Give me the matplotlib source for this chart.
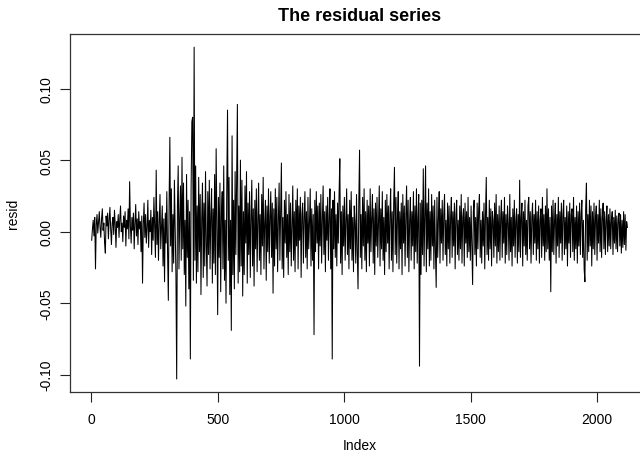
import numpy as np
import matplotlib.pyplot as plt

step = 3
resid_milli = [
    -6, 2, 8, -3, 10, -26, 5, 12, -1, 7, 14, 3, -4, 9, 16, 1, 6, -8, -15, 11,
    4, 13, -5, 8, 17, 2, -9, 6, 10, -2, 15, 5, -11, 7, 3, 12, -4, 9, 18, 0,
    6, -7, 11, 3, 14, -10, 8, 2, 16, -5, 35, 4, -8, 10, 1, 13, -12, 6, 19, -3,
    9, -9, 14, 2, 7, -14, 11, -36, 5, 20, -4, 12, -8, 3, 22, -11, 8, 0, 15, -16,
    10, -6, 24, 4, -18, 43, -9, 14, -20, 6, 26, -12, 3, 18, -24, 9, -35, 13, -8, 28,
    -15, -48, 20, 66, -10, 30, -28, 12, -22, 36, 4, -30, -103, 18, 46, -26, 10, 32, -20, 52,
    -12, 34, -30, 8, -52, 40, -18, 22, -40, 14, -89, 30, 77, 80, -34, 129, -20, 46, -36, 18,
    -28, 38, -14, 26, -44, 10, 34, -32, 20, -24, 42, -8, -38, 28, -16, 36, -26, 12, 30, -36,
    16, -22, 40, -30, 58, 6, -58, 24, -18, 34, -42, 12, 28, -26, 46, -34, 8, -50, 30, 85,
    -20, 38, -44, 8, -69, 67, -30, 22, -40, 42, -16, 34, 89, -36, 18, -28, 50, -24, 36, -45,
    14, -30, 32, -8, 42, -36, 20, -16, 28, -32, 10, 36, -24, 16, -38, 22, -12, 30, -28, 8,
    34, -20, 12, -30, 26, -10, 38, -26, 6, 22, -34, 18, -14, 30, -22, 10, 28, -18, 20, -43,
    16, -24, 30, -12, 24, -28, 8, 34, -20, 14, 48, -26, 10, -32, 22, -8, 28, -18, 12, -30,
    26, -14, 20, -24, 6, 32, -20, 14, -28, 22, -10, 30, -26, 18, -6, 24, -32, 12, 20, -22,
    10, 28, -18, 14, -26, 24, -12, 6, 30, -24, 16, -20, 12, -72, 22, -14, 28, -8, 18, -26,
    20, -10, 26, -22, 8, 32, -16, 14, -28, 18, -6, 24, -20, 10, 30, -26, 16, -89, 22, -12,
    28, -18, 12, -24, 20, -8, 26, 51, -22, 14, -30, 18, -10, 24, -20, 8, 30, -16, 12, -26,
    22, -12, 28, -20, 10, -28, 18, 6, -22, 26, -14, -40, 20, 57, -18, 12, -26, 24, -10, 30,
    -20, 14, -28, 22, -8, 18, -24, 30, -14, 10, 26, -22, 16, -30, 20, -10, 24, -18, 8, 32,
    -24, 16, -12, 28, -20, 10, -30, 22, -14, 26, -8, 18, -26, 12, 30, -20, 14, -28, 20, 45,
    -16, 24, -22, 10, 28, -26, 14, -12, 20, -30, 26, -8, 18, -24, 12, 32, -18, 22, -28, 8,
    24, -20, 14, -10, 28, -26, 18, -14, 30, -22, 10, 26, -94, 20, -30, 22, -16, 44, -24, 12,
    46, -28, 20, -12, 30, -24, 14, -20, 26, -10, 18, -26, 22, -14, -39, 24, -18, 10, 28, -22,
    16, -8, 22, -20, 12, 26, -16, 8, -24, 20, -12, 18, -22, 10, 24, -18, 14, -10, 20, -26,
    12, 22, -16, 8, -20, 18, -12, 26, -22, 10, 16, -24, 20, -8, 14, -18, 24, -14, 10, -20,
    18, -10, -37, 14, 22, -16, 10, -24, 20, -12, 16, 26, -18, 8, -22, 14, -10, 20, -26, 12,
    38, -16, 10, -20, 22, -12, 16, -24, 14, 8, -18, 20, -10, 26, -22, 12, -14, 18, -20, 10,
    22, -18, 14, -8, 24, -22, 12, -16, 18, 6, -20, 26, -14, 10, -24, 16, -10, 22, -18, 8,
    16, -22, 12, -14, 36, -18, 10, 20, -24, 14, -10, 22, -16, 8, -20, 18, 24, -12, 14, -22,
    10, 20, -16, 12, -8, 22, -20, 14, -12, 18, -22, 8, 16, -18, 24, -10, 12, -20, 18, -14,
    30, -12, 16, -20, 10, -42, 18, -14, 22, -16, 8, 20, -22, 12, -10, 24, -18, 14, -8, 20,
    -20, 12, 22, -16, 10, -12, 18, -24, 14, -8, 20, -18, 12, 16, -14, 24, -20, 10, -12, 18,
    -22, 14, -10, 20, -16, 12, 22, -18, 8, -26, -35, 16, 34, -20, 12, -14, 22, -10, 18, -24,
    14, -12, 20, -16, 10, 18, -20, 12, -8, 22, -14, 16, -18, 10, 20, -12, 14, -16, 8, 18,
    -14, 12, -10, 16, -12, 8, 14, -16, 10, -8, 15, -12, 11, -14, 9, 13, -10, 12, -15, 8,
    -11, 14, -9, 12, -13, 7, 3,
]
resid = np.array(resid_milli) / 1000.0
index = 1 + step * np.arange(len(resid))

xticks = [0, 500, 1000, 1500, 2000]
yticks = [-0.10, -0.05, 0.00, 0.05, 0.10]

plt.rcParams['font.family'] = ['Liberation Sans', 'DejaVu Sans']

fig = plt.figure(figsize=(6.4, 4.56), dpi=100)
ax = fig.add_axes([0.1098, 0.1375, 0.904, 0.786])
ax.plot(index, resid, color='black', linewidth=0.75)
ax.margins(x=0.04, y=0.04)

ax.set_xticks(xticks)
ax.set_yticks(yticks)
ax.set_yticklabels([f"{v:.2f}" for v in yticks], rotation=90, va='center')
ax.tick_params(direction='out', length=7, width=0.8, colors='#222222',
               labelsize=10, labelcolor='black')
ax.tick_params(axis='x', pad=7)
ax.tick_params(axis='y', pad=5)
for s in ax.spines.values():
    s.set_color('#333333')
    s.set_linewidth(0.9)

ax.set_title("The residual series", fontsize=13, fontweight='bold', pad=10)
ax.set_xlabel("Index", fontsize=10, labelpad=9)
ax.set_ylabel("resid", fontsize=10, labelpad=14)

fig.savefig("out.png", dpi=100)
